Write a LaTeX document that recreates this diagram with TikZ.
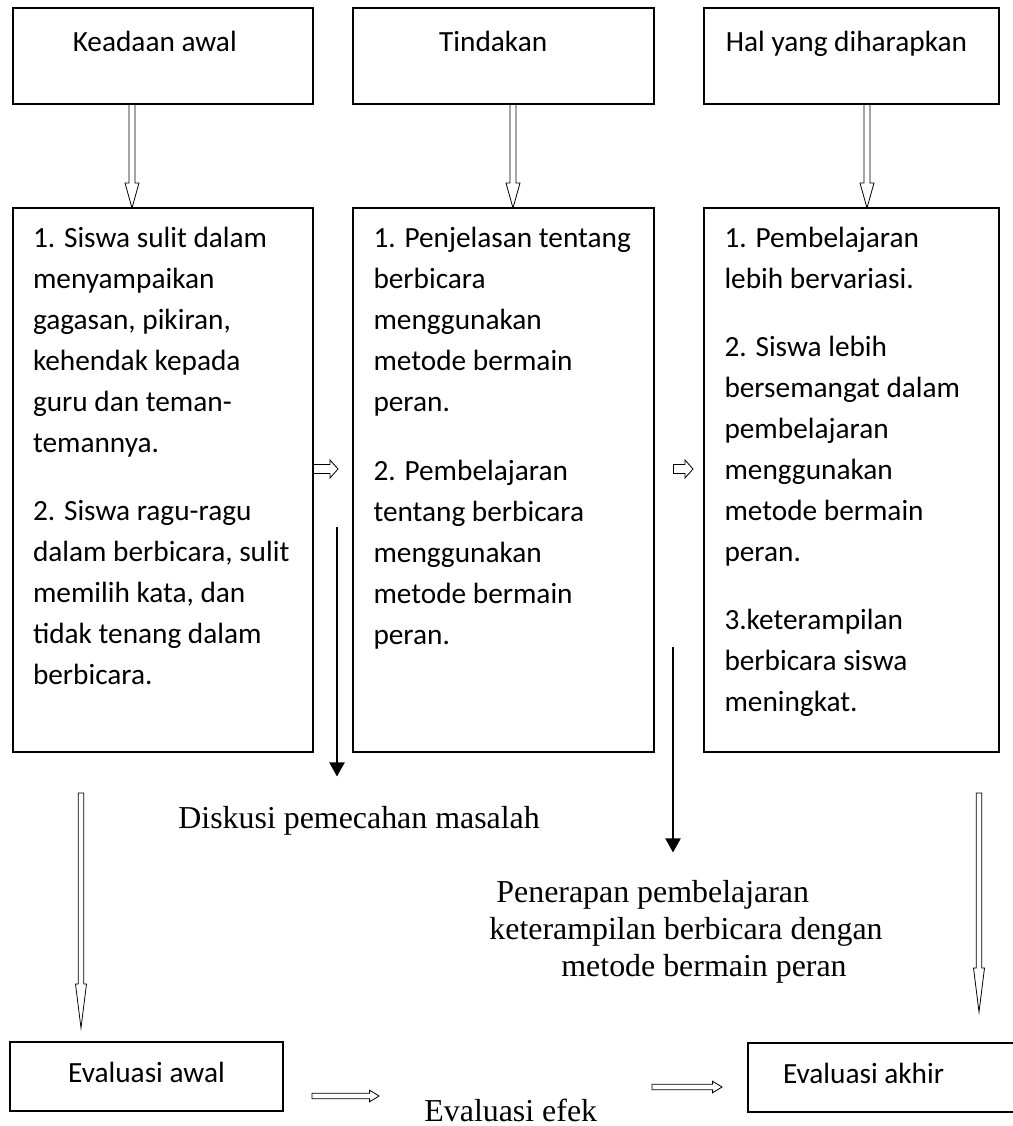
\documentclass[tikz,border=0pt]{standalone}
\usepackage{fontspec}
\setmainfont{Liberation Serif}
\newfontfamily\calibfont{Carlito}
\usetikzlibrary{calc,arrows.meta}
\tikzset{
  boxnode/.style={draw, line width=1pt, inner sep=0pt, outer sep=0pt, anchor=north west,
    font=\calibfont\fontsize{14.65pt}{20.5pt}\selectfont},
  serif/.style={inner sep=0pt, anchor=base west, font=\fontsize{15.95pt}{18.5pt}\selectfont},
  hdown/.style n args={3}{line width=0.7pt, line join=miter,
    to path={let \p1=(\tikztostart),\p2=(\tikztotarget) in
      (\x1-#1,\y1) -- (\x1-#1,\y2+#3) -- (\x1-#2,\y2+#3) -- (\x1,\y2)
      -- (\x1+#2,\y2+#3) -- (\x1+#1,\y2+#3) -- (\x1+#1,\y1) -- cycle}},
  hright/.style n args={3}{line width=0.7pt, line join=miter,
    to path={let \p1=(\tikztostart),\p2=(\tikztotarget) in
      (\x1,\y1-#1) -- (\x2-#3,\y1-#1) -- (\x2-#3,\y1-#2) -- (\x2,\y1)
      -- (\x2-#3,\y1+#2) -- (\x2-#3,\y1+#1) -- (\x1,\y1+#1) -- cycle}},
  blackarrow/.style={line width=1pt, -{Triangle[length=7pt,width=7.5pt]}}
}
\begin{document}
\begin{tikzpicture}[x=0.5pt,y=-0.5pt]
\useasboundingbox (0,0) rectangle (1013,1126);

% top boxes
\node[boxnode] (k1) at (12.5,8) {\parbox[c][48pt][t]{150.25pt}{\centering\rule{0pt}{21.5pt}Keadaan awal\hspace*{8pt}}};
\node[boxnode] (k2) at (353,8) {\parbox[c][48pt][t]{150.25pt}{\centering\rule{0pt}{21.5pt}Tindakan\hspace*{10pt}}};
\node[boxnode] (k3) at (704,8) {\parbox[c][48pt][t]{147.5pt}{\centering\rule{0pt}{21.5pt}Hal yang diharapkan\hspace*{5pt}}};

% middle boxes
\node[boxnode] (b1) at (12.5,208) {\parbox[c][272pt][t]{150.25pt}{\raggedright\leftskip=10.25pt\relax
\rule{0pt}{19.75pt}1. Siswa sulit dalam\\
menyampaikan\\
gagasan, pikiran,\\
kehendak kepada\\
guru dan teman-\\
temannya.\\[13.5pt]
2. Siswa ragu-ragu\\
dalam berbicara, sulit\\
memilih kata, dan\\
tidak tenang dalam\\
berbicara.}};
\node[boxnode] (b2) at (353,208) {\parbox[c][272pt][t]{150.25pt}{\raggedright\leftskip=10.25pt\relax
\rule{0pt}{19.75pt}1. Penjelasan tentang\\
berbicara\\
menggunakan\\
metode bermain\\
peran.\\[14pt]
2. Pembelajaran\\
tentang berbicara\\
menggunakan\\
metode bermain\\
peran.}};
\node[boxnode] (b3) at (704,208) {\parbox[c][272pt][t]{147.5pt}{\raggedright\leftskip=10.25pt\relax
\rule{0pt}{19.75pt}1. Pembelajaran\\
lebih bervariasi.\\[13.5pt]
2. Siswa lebih\\
bersemangat dalam\\
pembelajaran\\
menggunakan\\
metode bermain\\
peran.\\[13.5pt]
3.keterampilan\\
berbicara siswa\\
meningkat.}};

% bottom boxes
\node[boxnode] (ea) at (10,1042) {\parbox[c][34.5pt][t]{136.5pt}{\centering\rule{0pt}{20.25pt}Evaluasi awal}};
\node[boxnode] (ek) at (748,1043) {\parbox[c][34.5pt][t]{135pt}{\raggedright\leftskip=17.5pt\relax\rule{0pt}{20.25pt}Evaluasi akhir}};

% serif texts
\node[serif] (disk) at (178,828) {Diskusi pemecahan masalah};
\node[serif] (pen1) at (496,902) {Penerapan pembelajaran};
\node[serif] (pen2) at (489,939) {keterampilan berbicara dengan};
\node[serif] (pen3) at (561,976) {metode bermain peran};
\node[serif] (efek) at (424,1121) {Evaluasi efek};

% coordinates for connector ends
\coordinate (a1s) at ($(k1.south west)+(119.5,0)$);
\coordinate (a1e) at ($(b1.north west)+(119.5,0)$);
\coordinate (a2s) at ($(k2.south west)+(160,0)$);
\coordinate (a2e) at ($(b2.north west)+(160,0)$);
\coordinate (a3s) at ($(k3.south west)+(163,0)$);
\coordinate (a3e) at ($(b3.north west)+(163,0)$);

\coordinate (r1s) at ($(b1.north east)+(0,261)$);
\coordinate (r1e) at ($(b2.north west)+(-15,261)$);
\coordinate (r2s) at ($(b2.north east)+(20,261)$);
\coordinate (r2e) at ($(b3.north west)+(-11,261)$);

\coordinate (d1s) at ($(b1.south east)+(24,-225)$);
\coordinate (d1e) at ($(d1s |- disk.north west)+(0,-29)$);
\coordinate (d2s) at ($(b2.south east)+(19.5,-105)$);
\coordinate (d2e) at ($(d2s |- pen1.north west)+(0,-27)$);

\coordinate (l1s) at (81,793);
\coordinate (l1e) at ($(ea.north west)+(71,-14)$);
\coordinate (l2s) at (979,793);
\coordinate (l2e) at ($(ek.north west)+(231,-31)$);

\coordinate (h1s) at ($(ea.east)+(29,19.5)$);
\coordinate (h1e) at ($(ea.east)+(96,19.5)$);
\coordinate (h2s) at ($(ek.west)+(-96,9.5)$);
\coordinate (h2e) at ($(ek.west)+(-26,9.5)$);

% hollow down arrows
\draw (a1s) to[hdown={1.5pt}{3.5pt}{12.5pt}] (a1e);
\draw (a2s) to[hdown={1.5pt}{3.5pt}{12.5pt}] (a2e);
\draw (a3s) to[hdown={1.5pt}{3.5pt}{12.5pt}] (a3e);
\draw (l1s) to[hdown={1.4pt}{2.75pt}{22pt}] (l1e);
\draw (l2s) to[hdown={1.4pt}{2.75pt}{22pt}] (l2e);

% hollow right arrows
\draw (r1s) to[hright={2.25pt}{4.5pt}{4pt}] (r1e);
\draw (r2s) to[hright={2.25pt}{4.5pt}{4pt}] (r2e);
\draw (h1s) to[hright={1.4pt}{2.9pt}{4.7pt}] (h1e);
\draw (h2s) to[hright={1.4pt}{2.9pt}{4.7pt}] (h2e);

% black arrows
\draw[blackarrow] (d1s) -- (d1e);
\draw[blackarrow] (d2s) -- (d2e);
\end{tikzpicture}
\end{document}
